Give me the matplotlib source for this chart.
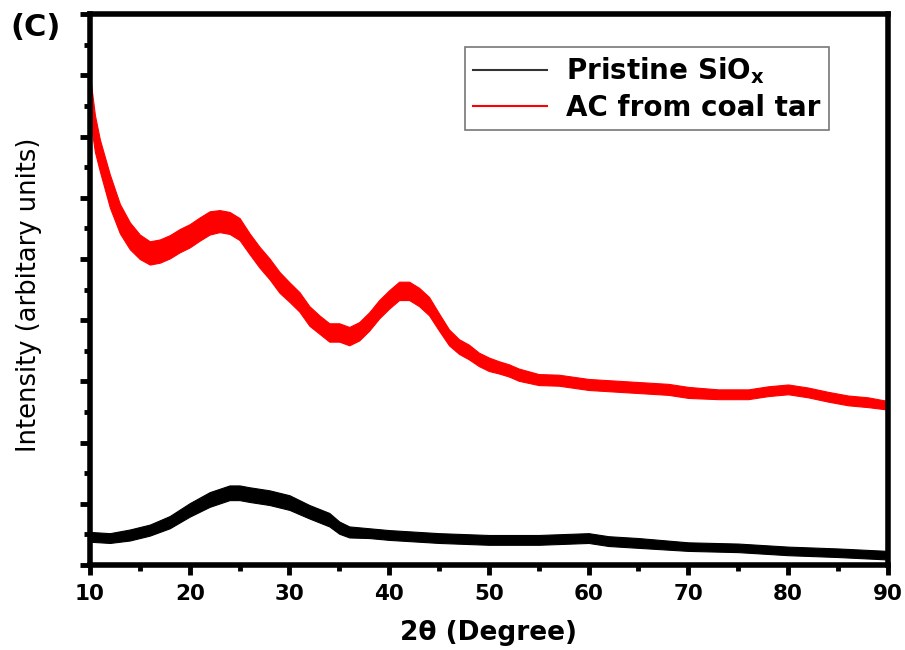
import matplotlib
matplotlib.use("Agg")
import matplotlib.pyplot as plt
from matplotlib.lines import Line2D
from matplotlib.ticker import MultipleLocator, NullFormatter
import numpy as np

plt.rcParams['font.family'] = ['DejaVu Sans']
plt.rcParams['mathtext.fontset'] = 'dejavusans'

# Red: AC from coal tar (center of noisy band) and band half-width
ac_x = [10, 10.5, 11, 12, 13, 14, 15, 16, 17, 18, 19, 20, 21, 22, 23, 24, 25, 26, 27, 28, 29,
        30, 31, 32, 33, 34, 35, 36, 37, 38, 39, 40, 41, 42, 43, 44, 45, 46, 47, 48, 49,
        50, 51, 52, 53, 55, 57, 60, 63, 65, 68, 70, 73, 76, 78, 80, 82, 84, 86, 88, 90]
ac_y = [765, 705, 669, 611, 566, 538, 520, 510, 513, 520, 530, 538, 549, 559, 562, 559, 549, 525, 503, 484, 462,
        446, 430, 407, 393, 380, 380, 374, 382, 398, 418, 434, 448, 448, 438, 423, 397, 372, 357, 348, 336,
        328, 323, 318, 311, 303, 302, 295, 292, 290, 287, 282, 279, 279, 284, 287, 282, 275, 269, 266, 261]
ac_s = [35, 30, 26, 27, 24, 22, 20, 19, 19, 19, 19, 19, 19, 19, 18, 18, 18, 17, 17, 17, 17,
        16, 16, 16, 15, 15, 15, 15, 15, 15, 15, 15, 15, 15, 15, 15, 14, 13, 12, 12, 11,
        11, 10, 10, 10, 9, 9, 9, 9, 9, 9, 9, 8, 8, 8, 8, 8, 8, 8, 8, 7]

# Black: Pristine SiOx
si_x = [10, 12, 14, 16, 18, 20, 22, 24, 25, 26, 28, 30, 32, 34, 35, 36, 38, 40, 45,
        50, 55, 60, 62, 65, 70, 75, 80, 85, 90]
si_y = [46, 44, 49, 57, 70, 90, 107, 118, 118, 115, 110, 102, 87, 74, 61, 54, 52, 49, 44,
        41, 41, 44, 39, 36, 30, 28, 23, 20, 16]
si_s = [8, 8, 9, 9, 10, 11, 12, 12, 12, 12, 12, 12, 11, 11, 10, 9, 8, 8, 8,
        8, 8, 8, 8, 8, 7, 7, 7, 7, 7]

x_ticks = [10, 20, 30, 40, 50, 60, 70, 80, 90]

fig = plt.figure(figsize=(9.05, 6.5), dpi=100)
ax = fig.add_axes([0.0994, 0.1308, 0.8816, 0.8472])

ac_x_a = np.array(ac_x, float)
ac_y_a = np.array(ac_y, float)
ac_s_a = np.array(ac_s, float)
si_x_a = np.array(si_x, float)
si_y_a = np.array(si_y, float)
si_s_a = np.array(si_s, float)

ax.fill_between(si_x_a, si_y_a - si_s_a, si_y_a + si_s_a, color='black', lw=0.8)
ax.fill_between(ac_x_a, ac_y_a - ac_s_a, ac_y_a + ac_s_a, color='#ff0000', lw=0.8)
ax.plot(si_x_a, si_y_a, color='black', lw=1)
ax.plot(ac_x_a, ac_y_a, color='#ff0000', lw=1)

ax.set_xlim(10, 90)
ax.set_ylim(0, 900)
ax.set_xticks(x_ticks)
ax.xaxis.set_minor_locator(MultipleLocator(5))
ax.yaxis.set_major_locator(MultipleLocator(100))
ax.yaxis.set_minor_locator(MultipleLocator(50))
ax.yaxis.set_major_formatter(NullFormatter())

for sp in ax.spines.values():
    sp.set_linewidth(4)
ax.tick_params(which='major', direction='out', length=7.5, width=3.5, labelsize=15.5, pad=6)
ax.tick_params(which='minor', direction='out', length=4, width=3.5)
ax.tick_params(top=False, right=False, which='both')
for lbl in ax.get_xticklabels():
    lbl.set_fontweight('bold')

ax.set_xlabel('2θ (Degree)', fontsize=19, fontweight='bold', labelpad=12)
ax.set_ylabel('Intensity (arbitary units)', fontsize=18.5)
ax.yaxis.set_label_coords(-0.060, 0.49)

handles = [Line2D([], [], color='#333333', lw=1.5),
           Line2D([], [], color='#ff0000', lw=1.5)]
leg = fig.legend(handles, ['Pristine SiO$_\\mathbf{x}$', 'AC from coal tar'],
                 loc='upper left', bbox_to_anchor=(465 / 905, 1 - 47 / 650),
                 prop={'weight': 'bold', 'size': 20}, frameon=True, fancybox=False,
                 edgecolor='#555555', handlelength=2.65, handletextpad=0.7,
                 borderpad=0.3, borderaxespad=0, labelspacing=0.28)
leg.get_frame().set_linewidth(1.2)

fig.text(0.011, 0.957, '(C)', fontsize=22, fontweight='bold', va='center', ha='left')

fig.savefig('out.png', dpi=100)
